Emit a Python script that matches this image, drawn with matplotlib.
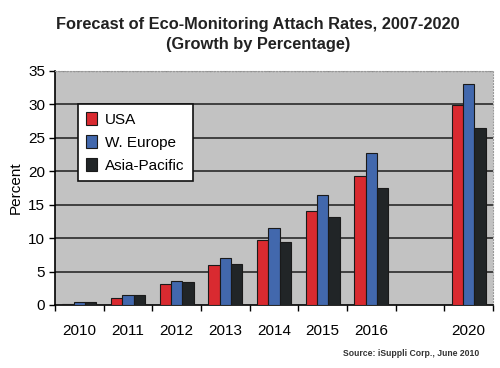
import matplotlib
matplotlib.use("Agg")
import matplotlib.pyplot as plt
import numpy as np

plt.rcParams['font.family'] = ['Liberation Sans', 'DejaVu Sans']

years = ["2010", "2011", "2012", "2013", "2014", "2015", "2016", "", "2020"]
usa = [0.2, 1.1, 3.2, 6.0, 9.7, 14.1, 19.3, np.nan, 29.9]
weurope = [0.4, 1.5, 3.6, 7.1, 11.5, 16.4, 22.8, np.nan, 33.1]
asia = [0.4, 1.5, 3.4, 6.1, 9.4, 13.1, 17.5, np.nan, 26.4]
series = [("USA", usa, "#d92a30"), ("W. Europe", weurope, "#4268ad"), ("Asia-Pacific", asia, "#212527")]

fig = plt.figure(figsize=(5.0, 3.68), dpi=100)
ax = fig.add_axes([55/500, 1-305/368, (493-55)/500, (305-71)/368])
ax.set_facecolor("#c2c2c2")

x = np.arange(len(years))
w = 0.235
for i, (name, vals, col) in enumerate(series):
    ax.bar(x + (i - 1) * w, vals, w, color=col, edgecolor="#1a1a1a", linewidth=0.8, label=name, zorder=3)

ax.set_xlim(-0.5, len(years) - 0.5)
ax.set_ylim(0, 35)
ax.set_yticks(range(0, 36, 5))
ax.set_xticks(x)
ax.set_xticklabels(years, fontsize=11)
ax.set_xticks(np.arange(-0.5, len(years), 1), minor=True)
ax.tick_params(axis='x', which='major', length=0, pad=14)
ax.tick_params(axis='x', which='minor', length=4, direction='out', width=1)
ax.tick_params(axis='y', labelsize=11, length=4, width=1, pad=3)
for v in range(5, 35, 5):
    ax.axhline(v, color="#2a2a2a", linewidth=1.2, zorder=1)
ax.axhline(35, color="#888888", linewidth=1, linestyle=":", zorder=1)
for s in ["top", "right"]:
    ax.spines[s].set_color("#999999")
    ax.spines[s].set_linestyle(":")
ax.spines["left"].set_linewidth(1.2)
ax.spines["bottom"].set_linewidth(1.2)

ax.set_ylabel("Percent", fontsize=11, labelpad=4)

leg = ax.legend(loc="upper left", bbox_to_anchor=(23/438, 1-33/234), fontsize=11,
                frameon=True, fancybox=False, edgecolor="#111111", handlelength=0.7,
                handleheight=0.9, handletextpad=0.5, labelspacing=0.55, borderpad=0.55,
                borderaxespad=0)
leg.get_frame().set_linewidth(1.2)
leg.get_frame().set_facecolor("white")
leg.get_frame().set_alpha(1)

fig.text(258/500, 1-25/368, "Forecast of Eco-Monitoring Attach Rates, 2007-2020",
         ha="center", va="center", fontsize=11.8, fontweight="bold", color="#222222")
fig.text(258/500, 1-45/368, "(Growth by Percentage)",
         ha="center", va="center", fontsize=11.8, fontweight="bold", color="#222222")
fig.text(479/500, 1-354/368, "Source: iSuppli Corp., June 2010", ha="right", va="center",
         fontsize=6.2, fontweight="bold", color="#333333")

fig.savefig("out.png", dpi=100)
